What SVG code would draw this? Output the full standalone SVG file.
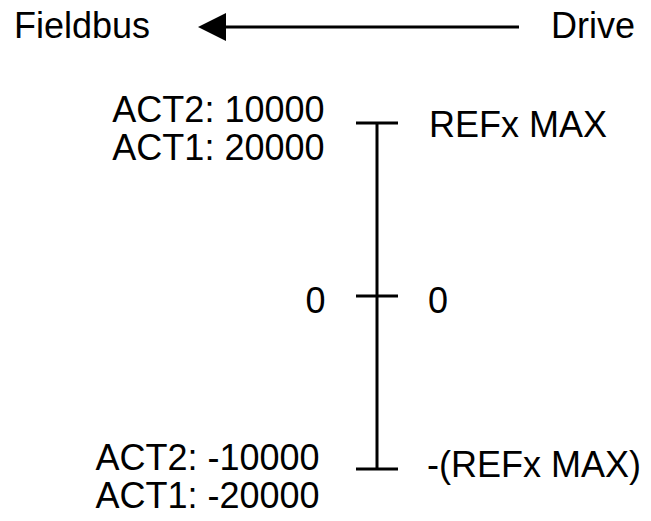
<svg xmlns="http://www.w3.org/2000/svg" width="651" height="521" viewBox="0 0 651 521">
<style>
text{font-family:"Liberation Sans",Arial,sans-serif;font-size:36px;fill:#000}
.l{text-anchor:end}
.ln{stroke:#000;stroke-width:3;fill:none}
</style>
<rect width="651" height="521" fill="#fff"/>
<g id="fieldbus"><text x="14" y="38">Fieldbus</text></g>
<g id="drive"><text x="551" y="38">Drive</text></g>
<g id="connectors">
<line class="ln" x1="224" y1="27" x2="519" y2="27"/>
<polygon points="198,27 226,13 226,41" fill="#000"/>
<line class="ln" x1="377" y1="123" x2="377" y2="469"/>
<line class="ln" x1="356" y1="123" x2="398" y2="123"/>
<line class="ln" x1="356" y1="296" x2="398" y2="296"/>
<line class="ln" x1="356" y1="469" x2="398" y2="469"/>
</g>
<g id="max-left"><text class="l" x="324.5" y="122">ACT2: 10000</text><text class="l" x="324.5" y="160">ACT1: 20000</text></g>
<g id="max-right"><text x="429" y="137">REFx MAX</text></g>
<g id="zero-left"><text class="l" x="325.5" y="313">0</text></g>
<g id="zero-right"><text x="428" y="313">0</text></g>
<g id="min-left"><text class="l" x="319.5" y="470">ACT2: -10000</text><text class="l" x="319.5" y="508">ACT1: -20000</text></g>
<g id="min-right"><text x="427" y="477">-(REFx MAX)</text></g>
</svg>
